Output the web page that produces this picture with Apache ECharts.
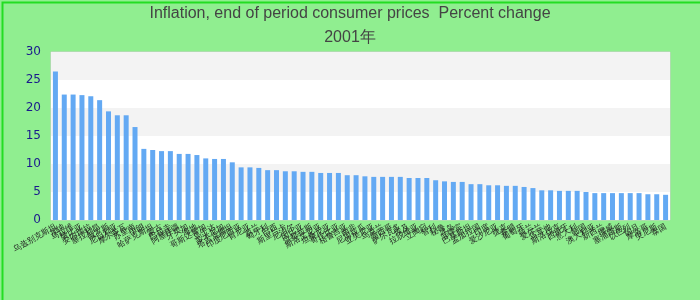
<!DOCTYPE html>
<html>
<head>
<meta charset="utf-8">
<script src="https://cdn.jsdelivr.net/npm/echarts@6/dist/echarts.min.js"></script>
<style>
  body { margin: 0; }
  #chart { width: 700px; height: 300px; }
</style>
</head>
<body>
<div id="chart"></div>
<script>
// 国家/地区 (标签在原图中无法辨认，按顺序排列)
var countries = [
  "乌兹别克斯坦", "加纳", "马拉维", "赞比亚", "委内瑞拉", "塞拉利昂", "俄罗斯", "尼日利亚", "摩尔多瓦", "苏里南",
  "伊朗", "哈萨克斯坦", "蒙古", "巴拉圭", "阿塞拜疆", "牙买加", "海地", "哥斯达黎加", "乌干达", "多米尼加",
  "塔吉克斯坦", "印度尼西亚", "肯尼亚", "波兰", "匈牙利", "巴西", "斯里兰卡", "尼泊尔", "冈比亚", "洪都拉斯",
  "斯洛文尼亚", "坦桑尼亚", "哥伦比亚", "格鲁吉亚", "南非", "尼加拉瓜", "亚美尼亚", "乌克兰", "墨西哥", "萨尔瓦多",
  "埃及", "拉脱维亚", "立陶宛", "智利", "秘鲁", "冰岛", "菲律宾", "巴基斯坦", "孟加拉国", "印度",
  "爱沙尼亚", "捷克", "希腊", "葡萄牙", "荷兰", "爱尔兰", "马耳他", "斯洛伐克", "西班牙", "意大利",
  "韩国", "澳大利亚", "新西兰", "挪威", "塞浦路斯", "以色列", "约旦", "摩洛哥", "突尼斯", "泰国"
];
var values = [
  26.5, 22.4, 22.4, 22.3, 22.1, 21.4, 19.4, 18.7, 18.7, 16.6,
  12.7, 12.5, 12.3, 12.3, 11.8, 11.8, 11.6, 11.0, 10.9, 10.9,
  10.3, 9.4, 9.4, 9.3, 8.9, 8.9, 8.7, 8.7, 8.6, 8.6,
  8.4, 8.4, 8.4, 8.0, 8.0, 7.8, 7.7, 7.7, 7.7, 7.7,
  7.5, 7.5, 7.5, 7.1, 6.9, 6.8, 6.8, 6.4, 6.4, 6.2,
  6.2, 6.1, 6.1, 5.9, 5.7, 5.3, 5.3, 5.2, 5.2, 5.2,
  5.0, 4.8, 4.8, 4.8, 4.8, 4.8, 4.8, 4.6, 4.6, 4.5
];
var yTicks = { min: 0, max: 30, interval: 5 };

var myChart = echarts.init(document.getElementById("chart"));
var option = {
  backgroundColor: "#90ee90",
  //外框
  graphic: [{
    type: "rect",
    left: 0,
    top: 0,
    z: 100,
    silent: true,
    shape: { width: 699, height: 299 },
    style: { fill: null, stroke: "#22dd22", lineWidth: 2 }
  }],
  title: {
    text: "Inflation, end of period consumer prices  Percent change\n2001年",
    left: "center",
    top: -3,
    textStyle: {
      fontFamily: "Liberation Sans",
      fontSize: 16,
      fontWeight: "normal",
      color: "#444",
      lineHeight: 24
    }
  },
  grid: { left: 51, right: 30, top: 52, bottom: 80, show: true, borderColor: "#ccc", backgroundColor: "#fff" },
  xAxis: {
    type: "category",
    data: countries,
    axisLine: { show: false },
    axisTick: { show: false },
    axisLabel: {
      interval: 0,
      rotate: 30,
      fontSize: 8,
      color: "#222",
      margin: 6
    }
  },
  yAxis: {
    type: "value",
    min: yTicks.min,
    max: yTicks.max,
    interval: yTicks.interval,
    axisLine: { show: false },
    axisTick: { show: false },
    splitLine: { show: false },
    splitArea: { show: true, areaStyle: { color: ["#ffffff", "#f3f3f3"] } },
    axisLabel: { color: "#1a1a8c", fontSize: 12, fontFamily: "DejaVu Sans", margin: 10 }
  },
  series: [{
    type: "bar",
    data: values,
    barWidth: 5,
    itemStyle: { color: "#63a9f3" }
  }]
};
myChart.setOption(option);
</script>
</body>
</html>
